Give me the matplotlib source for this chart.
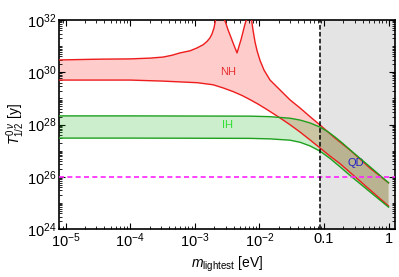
import numpy as np
import matplotlib
matplotlib.use("Agg")
import matplotlib.pyplot as plt
from matplotlib.ticker import LogLocator, NullFormatter

plt.rcParams['font.family'] = ['Liberation Sans', 'DejaVu Sans']
plt.rcParams['mathtext.fontset'] = 'custom'
plt.rcParams['mathtext.rm'] = 'Liberation Sans'
plt.rcParams['mathtext.it'] = 'Liberation Sans:italic'

# band edges: log10(m_lightest / eV) and log10(T / y)
nh_up_lgm = [-5.1, -4.465, -4.0, -3.691, -3.49, -3.351, -3.227, -3.072, -2.964, -2.871,
             -2.809, -2.763, -2.732, -2.701, -2.67, -2.623, -2.577, -2.546, -2.515,
             -2.484, -2.437, -2.391, -2.345, -2.314, -2.283, -2.252, -2.221, -2.19,
             -2.159, -2.128, -2.097, -2.066, -2.035, -1.989, -1.927, -1.834, -1.679,
             -1.524, -1.369, -1.215, -1.06, -0.828, -0.595, -0.286, 0.0]
nh_up_lgt = [30.47, 30.50, 30.51, 30.54, 30.58, 30.65, 30.74, 30.82, 30.93, 31.05,
             31.18, 31.32, 31.47, 31.70, 32.1, 34.0, 32.4, 32.05, 31.85,
             31.62, 31.32, 31.02, 30.74, 31.0, 31.25, 31.55, 31.85, 32.1,
             34.0, 32.15, 31.6, 31.15, 30.82, 30.45, 30.08, 29.70, 29.32,
             28.94, 28.63, 28.30, 27.98, 27.48, 27.02, 26.33, 25.77]

nh_lo_lgm = [-5.1, -4.0, -3.49, -2.964, -2.716, -2.561, -2.407, -2.267, -2.143, -2.019,
             -1.88, -1.679, -1.524, -1.369, -1.215, -1.06, -0.905, -0.75, 0.0]
nh_lo_lgt = [29.70, 29.70, 29.66, 29.60, 29.52, 29.40, 29.26, 29.11, 28.95, 28.78,
             28.57, 28.25, 27.99, 27.71, 27.41, 27.10, 26.79, 26.50, 24.88]

ih_up_lgm = [-5.1, -4.0, -2.143, -1.834, -1.524, -1.369, -1.215, -1.06, -0.936, -0.828,
             -0.719, -0.595, -0.286, 0.0]
ih_up_lgt = [28.33, 28.33, 28.32, 28.30, 28.24, 28.17, 28.06, 27.90, 27.72, 27.52,
             27.30, 27.03, 26.38, 25.77]

ih_lo_lgm = [-5.1, -4.0, -2.143, -1.834, -1.524, -1.369, -1.215, -1.06, -0.905, -0.75,
             -0.595, -0.286, 0.0]
ih_lo_lgt = [27.48, 27.48, 27.47, 27.45, 27.40, 27.32, 27.18, 26.98, 26.70, 26.38,
             26.05, 25.42, 24.84]

m_cosmo = 0.087      # vertical dashed line, start of grey region
t_limit = 1e26       # horizontal magenta line

xticks = [1e-5, 1e-4, 1e-3, 1e-2, 0.1, 1]
xticklabels = ['$10^{-5}$', '$10^{-4}$', '$10^{-3}$', '$10^{-2}$', '0.1', '1']
yticks = [1e24, 1e26, 1e28, 1e30, 1e32]
yticklabels = ['$10^{24}$', '$10^{26}$', '$10^{28}$', '$10^{30}$', '$10^{32}$']

def to_lin(a):
    return 10.0 ** np.array(a)

fig = plt.figure(figsize=(3.99, 2.77), dpi=100)
ax = fig.add_axes([0.148, 0.173, 0.842, 0.755])
ax.set_xscale('log')
ax.set_yscale('log')
xlo, xhi = 10 ** -5.1, 10 ** 0.1
ax.set_xlim(xlo, xhi)
ax.set_ylim(1e24, 1e32)

ax.axvspan(m_cosmo, xhi, color='#e4e4e4', lw=0, zorder=0)

# NH band
px = np.concatenate([to_lin(nh_up_lgm), to_lin(nh_lo_lgm)[::-1]])
py = np.concatenate([to_lin(nh_up_lgt), to_lin(nh_lo_lgt)[::-1]])
ax.fill(px, py, color=(1, 0, 0), alpha=0.2, lw=0, zorder=1)
# IH band
px = np.concatenate([to_lin(ih_up_lgm), to_lin(ih_lo_lgm)[::-1]])
py = np.concatenate([to_lin(ih_up_lgt), to_lin(ih_lo_lgt)[::-1]])
ax.fill(px, py, color=(0, 0.67, 0), alpha=0.2, lw=0, zorder=2)

red = '#ee1c1c'
green = '#1ea01e'
ax.plot(to_lin(nh_up_lgm), to_lin(nh_up_lgt), color=red, lw=1, zorder=3)
ax.plot(to_lin(nh_lo_lgm), to_lin(nh_lo_lgt), color=red, lw=1, zorder=3)
ax.plot(to_lin(ih_up_lgm), to_lin(ih_up_lgt), color=green, lw=1, zorder=4)
ax.plot(to_lin(ih_lo_lgm), to_lin(ih_lo_lgt), color=green, lw=1, zorder=4)

ax.axhline(t_limit, color='#ff22ff', lw=1.2, ls=(0, (3, 2)), zorder=5)
ax.axvline(m_cosmo, color='black', lw=1.1, ls=(0, (3, 1.5)), zorder=5)

ax.text(10 ** -2.49, 10 ** 30.0, 'NH', color='#e83030', fontsize=8, ha='center', va='center')
ax.text(10 ** -2.49, 10 ** 27.98, 'IH', color='#33dd33', fontsize=8, ha='center', va='center')
ax.text(0.31, 10 ** 26.52, 'QD', color='#2020c8', fontsize=8, ha='center', va='center')

ax.set_xticks(xticks)
ax.set_xticklabels(xticklabels)
ax.set_yticks(yticks)
ax.set_yticklabels(yticklabels)
ax.xaxis.set_minor_locator(LogLocator(base=10, subs=np.arange(1, 10), numticks=50))
ax.yaxis.set_minor_locator(LogLocator(base=10, subs=np.arange(1, 10), numticks=50))
ax.xaxis.set_minor_formatter(NullFormatter())
ax.yaxis.set_minor_formatter(NullFormatter())
ax.tick_params(which='both', direction='in', top=True, right=True, labelsize=10.5, pad=2)
ax.tick_params(which='major', length=4, width=0.8)
ax.tick_params(which='minor', length=2, width=0.6)
for s in ax.spines.values():
    s.set_linewidth(1.2)

ax.set_xlabel(r'$m_{\mathrm{lightest}}$ [eV]', fontsize=10, labelpad=3)
ax.set_ylabel(r'$T^{0\,\nu}_{1/2}$ [y]', fontsize=10, labelpad=0)

fig.savefig('out.png', dpi=100)
